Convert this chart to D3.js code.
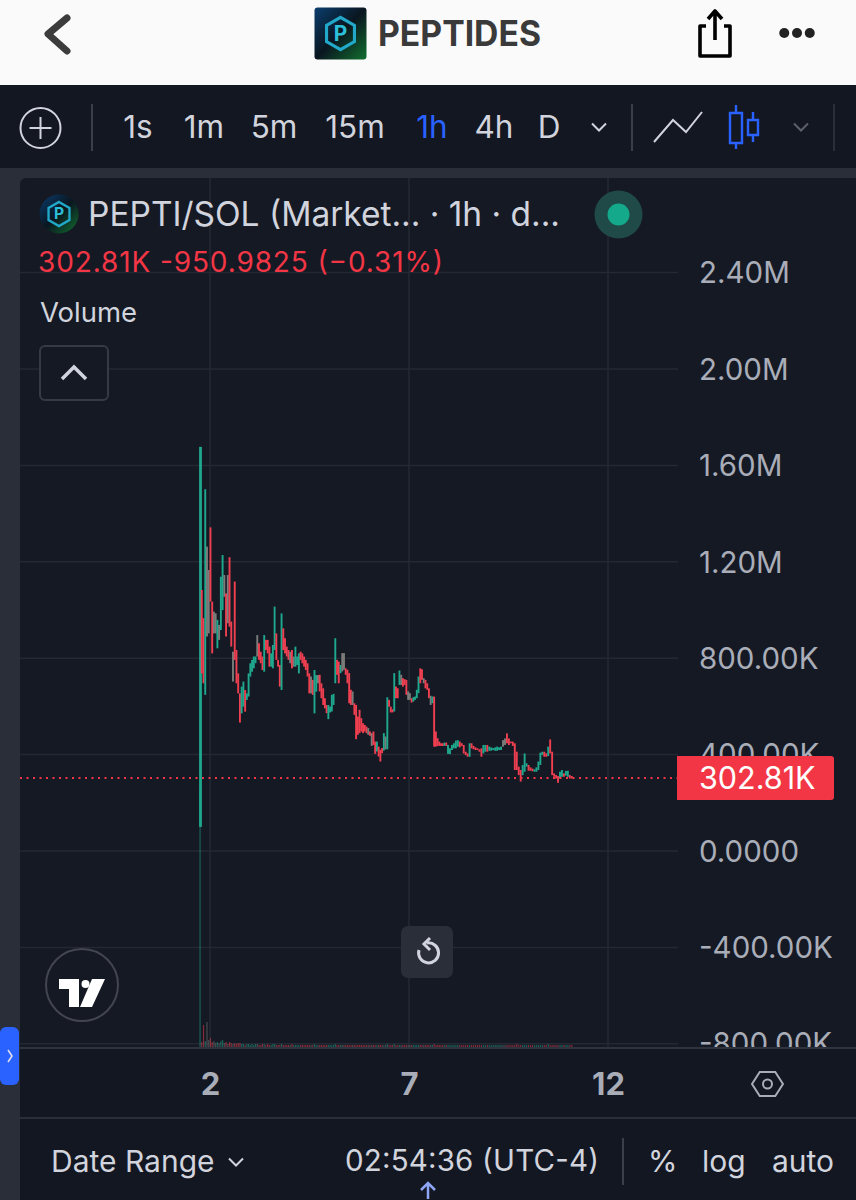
<!DOCTYPE html>
<html><head><meta charset="utf-8">
<style>html,body{margin:0;padding:0;background:#131722}svg{display:block}text{font-family:Inter,"Noto Sans",sans-serif}</style>
<script src="https://cdn.jsdelivr.net/npm/d3@7/dist/d3.min.js"></script>
</head><body><svg id="c" width="856" height="1200"></svg>
<script>
const priceTicks=[2400,2000,1600,1200,800,400,0,-400,-800];
const priceLabels=["2.40M","2.00M","1.60M","1.20M","800.00K","400.00K","0.0000","-400.00K","-800.00K"];
const dayTicks=[2,7,12];
const intervals=["1s","1m","5m","15m","1h","4h","D"];
const lastPrice=302.81;
const highs=[1677,1083,966,1501,1263,1166,1343,1035,993,986,959,938,1138,1228,1145,1069,1145,1219,952,827,1118,834,737,654,682,703,668,654,737,779,793,807,807,896,862,827,807,896,876,876,848,820,855,1014,903,793,772,986,924,883,848,834,827,834,807,848,807,820,827,820,807,793,779,737,724,710,751,730,730,731,696,675,634,606,606,599,648,652,883,793,786,772,821,821,758,752,738,669,662,613,606,558,586,551,530,523,516,510,496,489,496,454,454,433,420,427,489,475,638,627,599,588,738,682,675,749,731,717,713,710,662,655,634,638,641,669,724,758,754,717,710,696,675,644,641,641,496,468,454,447,447,450,450,440,426,440,447,458,460,454,447,440,412,405,447,447,436,430,426,422,426,440,440,440,433,430,427,430,433,430,433,460,467,488,467,454,454,447,412,350,336,357,405,364,357,347,342,339,347,371,408,412,412,405,433,463,412,322,315,311,329,336,322,332,333,315,311];
const lows=[100,737,696,648,890,903,1035,820,903,903,841,876,917,1000,1055,890,945,931,848,703,793,696,654,533,571,599,578,627,641,724,744,758,779,807,793,779,751,744,834,820,765,765,758,834,793,765,682,668,834,820,807,793,779,758,765,765,772,737,793,779,765,751,724,654,654,648,571,661,696,662,634,606,592,572,547,575,579,606,696,731,696,738,745,752,731,696,613,606,606,565,464,482,489,496,489,496,489,482,478,436,440,403,413,392,371,406,417,422,422,599,575,575,579,634,634,689,689,682,689,648,627,627,616,620,627,634,655,696,710,696,675,669,634,606,613,433,433,436,436,436,436,436,436,403,402,419,426,426,433,430,436,405,398,391,391,426,422,419,419,412,391,405,412,412,416,416,419,416,416,419,419,433,440,447,440,447,436,336,336,315,288,315,329,350,333,333,331,329,329,336,357,398,391,391,394,405,315,308,301,283,301,308,308,313,308,301,301];
const directions=["URRUNNRRNN","UNUUNRNRRN","RRRRUURUUU","UUUNRRRURR","RUUURRRURR","RRNRNUUURR","RRRRNRUUNR","RRRRUUUUUR","RUNNRRRRNR","RRRRRRRNRN","RRURRRUNUR","RRURRUNRRR","NNRUUUURRN","RRRNURRRRR","RURUUUUUUR","RRRRURRRRR","RUURUUUUUU","UNNRRRRRRR","RUUURRRUUU","UURRURRRRR","UURUURR"].join("").split("");
const volumes=[260,5,22,6,25,7,9,5,6,4,5,4,6,7,4,5,3,5,4,3,4,3,4,4,3,3,2,3,3,2,3,2,3,3,2,2,3,3,2,3,2,2,3,3,2,2,2,3,2,2,2,2,2,3,2,2,2,2,2,2,2,2,2,2,2,2,3,2,2,2,2,2,2,2,2,2,2,2,3,2,2,2,2,2,2,2,2,2,2,2,2,2,2,2,2,2,2,2,2,2,2,2,2,2,2,2,2,2,3,2,2,2,3,2,2,2,2,2,2,2,2,2,2,2,2,2,2,2,2,2,2,2,2,2,2,3,2,2,2,2,2,2,2,2,2,2,2,2,2,2,2,2,2,2,2,2,2,2,2,2,2,2,2,2,2,2,2,2,2,2,2,2,2,2,2,2,2,2,3,2,2,2,2,2,2,2,2,2,2,2,2,2,2,2,3,2,2,2,2,2,2,2,2,2,2,2,2];
const colours={U:"#1fa88e",R:"#ef3f50",N:"#7c7d7b"};
const candleAnchors=[0,143,206];
const candleDays=[1.75,7.98,11.09];

const svg=d3.select("#c");
const muted="#a9adb8",light="#d1d4dc",white="#fafafa";
const bg="#151924",strip="#2a2e39",grid="#242833";
const y=d3.scaleLinear().domain([0,400]).range([851,754.6]);
const x=d3.scaleLinear().domain([2,7]).range([210,409]);
const candleDay=d3.scaleLinear().domain(candleAnchors).range(candleDays);
const candleX=i=>x(candleDay(i));
const vol=d3.scaleLinear().domain([0,1]).range([1047,1046]);

// backgrounds
svg.append("rect").attr("width",856).attr("height",1200).attr("fill","#131722");
svg.append("rect").attr("width",856).attr("height",85).attr("fill",white);
svg.append("rect").attr("y",168).attr("width",856).attr("height",1032).attr("fill",strip);
svg.append("path").attr("d","M20,1200V184a6,6 0 0 1 6,-6H856V1200Z").attr("fill",bg);
svg.append("rect").attr("x",20).attr("y",1048).attr("width",836).attr("height",152).attr("fill","#131722");

// header
const defs=svg.append("defs");
const g1=defs.append("linearGradient").attr("id","logo").attr("x1",0).attr("y1",0).attr("x2",1).attr("y2",1);
g1.append("stop").attr("offset",0).attr("stop-color","#0a3d6e");
g1.append("stop").attr("offset",.5).attr("stop-color","#0a1620");
g1.append("stop").attr("offset",1).attr("stop-color","#12702f");
function logo(cx,cy,r,round){
  if(round) svg.append("circle").attr("cx",cx).attr("cy",cy).attr("r",r).attr("fill","url(#logo)");
  else svg.append("rect").attr("x",cx-r).attr("y",cy-r).attr("width",2*r).attr("height",2*r).attr("rx",3).attr("fill","url(#logo)");
  const h=r*.62,pts=d3.range(6).map(i=>[cx+h*Math.sin(i*Math.PI/3),cy-h*Math.cos(i*Math.PI/3)]);
  svg.append("path").attr("d","M"+pts.join("L")+"Z").attr("fill","none").attr("stroke","#22a8c8").attr("stroke-width",r*.12);
  svg.append("text").attr("x",cx).attr("y",cy+r*.28).attr("text-anchor","middle").attr("font-size",r*.8).attr("font-weight",700).attr("fill","#2cc0d8").text("P");
}
logo(340.5,33.5,26,false);
svg.append("text").attr("x",378).attr("y",46).attr("font-size",35).attr("font-weight",700).attr("fill","#3a3a3a").attr("textLength",163).attr("lengthAdjust","spacingAndGlyphs").attr("font-family","Roboto").text("PEPTIDES");
svg.append("path").attr("d","M67,18L48,34L67,51").attr("fill","none").attr("stroke","#3c3c3c").attr("stroke-width",7).attr("stroke-linecap","round").attr("stroke-linejoin","round");
svg.append("path").attr("d","M706,26H700V56H730V26H724M715,40V13M708,19L715,11L722,19").attr("fill","none").attr("stroke","#000").attr("stroke-width",3.6).attr("stroke-linejoin","round");
[-15,0,15].forEach(d=>svg.append("circle").attr("cx",797+d*.85).attr("cy",33).attr("r",5).attr("fill","#222"));

// toolbar
svg.append("circle").attr("cx",40.5).attr("cy",128).attr("r",20).attr("fill","none").attr("stroke","#d1d4dc").attr("stroke-width",2);
svg.append("path").attr("d","M40.5,117V139M29.5,128H51.5").attr("stroke","#d1d4dc").attr("stroke-width",2);
svg.selectAll("line.sep").data([92,632]).join("line").attr("x1",d=>d).attr("x2",d=>d).attr("y1",104).attr("y2",151).attr("stroke","#3b3f4a").attr("stroke-width",2);
svg.append("line").attr("x1",834).attr("x2",834).attr("y1",104).attr("y2",151).attr("stroke","#2a2e39").attr("stroke-width",2);
const ivX=[138,204,274,355,432,494,549];
svg.selectAll("text.iv").data(intervals).join("text").attr("x",(d,i)=>ivX[i]).attr("y",138).attr("text-anchor","middle").attr("font-size",31.5).attr("fill",d=>d==="1h"?"#2962ff":light).text(d=>d);
const chev=(cx,cy,c,w)=>svg.append("path").attr("d",`M${cx-w},${cy-w/2}L${cx},${cy+w/2}L${cx+w},${cy-w/2}`).attr("fill","none").attr("stroke",c).attr("stroke-width",2);
chev(599,127,light,7);chev(801,127,"#5d606b",7);
svg.append("path").attr("d","M654,142L673,120L686,132L702,112").attr("fill","none").attr("stroke",light).attr("stroke-width",2);
svg.append("path").attr("d","M736,105V113M736,143V149M730,113H742V143H730ZM753,112V120M753,135V142M748,120H758V135H748Z").attr("fill","none").attr("stroke","#2962ff").attr("stroke-width",2.4);

// grid
svg.selectAll("line.h").data(priceTicks).join("line").attr("x1",20).attr("x2",678).attr("y1",d=>y(d)).attr("y2",d=>y(d)).attr("stroke",grid).attr("stroke-width",1.5);
svg.selectAll("line.v").data(dayTicks).join("line").attr("x1",d=>x(d)).attr("x2",d=>x(d)).attr("y1",178).attr("y2",1048).attr("stroke",grid).attr("stroke-width",1.5);

// volume
svg.append("g").selectAll("rect").data(volumes).join("rect")
  .attr("x",(d,i)=>candleX(i)-.6).attr("width",1.2)
  .attr("y",d=>vol(d)).attr("height",d=>vol(0)-vol(d))
  .attr("fill",(d,i)=>colours[directions[i]]).attr("opacity",.5);

// candles
svg.append("g").selectAll("rect").data(highs).join("rect")
  .attr("x",(d,i)=>candleX(i)-.95).attr("width",(d,i)=>i===0?2.8:1.9)
  .attr("y",d=>y(d)).attr("height",(d,i)=>y(lows[i])-y(d))
  .attr("fill",(d,i)=>colours[directions[i]]);

// axes
const ya=d3.axisRight(y).tickValues(priceTicks.slice(0,8)).tickFormat(d=>priceLabels[priceTicks.indexOf(d)]).tickSize(0).tickPadding(0);
const yg=svg.append("g").attr("transform","translate(699,0)").call(ya);
yg.select(".domain").remove();
yg.selectAll("text").attr("font-size",29.5).attr("fill",muted).attr("font-family","Inter").attr("dy","0.35em");
svg.append("clipPath").attr("id","cl").append("rect").attr("x",680).attr("y",1000).attr("width",176).attr("height",47);
svg.append("text").attr("x",699).attr("y",y(-800)+10).attr("font-size",29.5).attr("fill",muted).attr("clip-path","url(#cl)").text(priceLabels[8]);
svg.append("line").attr("x1",20).attr("x2",856).attr("y1",1048).attr("y2",1048).attr("stroke","#2f333e").attr("stroke-width",2);
svg.append("line").attr("x1",20).attr("x2",856).attr("y1",1118).attr("y2",1118).attr("stroke","#2a2e39").attr("stroke-width",2);

const xa=d3.axisBottom(x).tickValues(dayTicks).tickFormat(d3.format("d")).tickSize(0).tickPadding(0);
const xg=svg.append("g").attr("transform","translate(0,1073)").call(xa);
xg.select(".domain").remove();
xg.selectAll("text").attr("font-size",31).attr("font-weight",700).attr("fill",muted).attr("font-family","Inter");

// last price
svg.append("line").attr("x1",20).attr("x2",678).attr("y1",y(lastPrice)).attr("y2",y(lastPrice)).attr("stroke","#f23645").attr("stroke-width",2).attr("stroke-dasharray","2 4.5");
svg.append("path").attr("d","M677,756H831a3,3 0 0 1 3,3V797a3,3 0 0 1 -3,3H677Z").attr("fill","#f23645");
svg.append("text").attr("x",699).attr("y",789).attr("font-size",30.5).attr("fill","#fff").text("302.81K");

// legend
logo(59,214,19.5,true);
svg.append("text").attr("x",88).attr("y",226).attr("font-size",33.5).attr("fill",light).attr("textLength",472).text("PEPTI/SOL (Market... · 1h · d...");
svg.append("circle").attr("cx",618.5).attr("cy",214.5).attr("r",24).attr("fill","#1f4a47");
svg.append("circle").attr("cx",618.5).attr("cy",214.5).attr("r",11).attr("fill","#14a98a");
svg.append("text").attr("x",38).attr("y",272).attr("font-size",28).attr("fill","#f23645").attr("textLength",405).text("302.81K  -950.9825 (−0.31%)");
svg.append("text").attr("x",40).attr("y",322).attr("font-size",27.5).attr("fill",light).text("Volume");
svg.append("rect").attr("x",40).attr("y",346).attr("width",68).attr("height",54).attr("rx",5).attr("fill",bg).attr("stroke","#363a45").attr("stroke-width",2);
svg.append("path").attr("d","M62,379L74,367L86,379").attr("fill","none").attr("stroke",light).attr("stroke-width",3.5);

// tradingview badge
svg.append("circle").attr("cx",82).attr("cy",985).attr("r",36).attr("fill",bg).attr("stroke","#43464f").attr("stroke-width",2);
svg.append("path").attr("d","M59,979H79V1007H69V989H59ZM92,979H105L92,1007H80Z").attr("fill","#fff");
svg.append("circle").attr("cx",85.5).attr("cy",984).attr("r",4).attr("fill","#fff");

// reset button
svg.append("rect").attr("x",401).attr("y",926).attr("width",52).attr("height",52).attr("rx",7).attr("fill","#2a2e39");
svg.append("path").attr("d","M419,950a10,10 0 1 0 8,-7").attr("fill","none").attr("stroke",light).attr("stroke-width",3);
svg.append("path").attr("d","M430,938L424,944L430,950").attr("fill","none").attr("stroke",light).attr("stroke-width",3);

// left tab
svg.append("rect").attr("x",0).attr("y",1027).attr("width",19).attr("height",58).attr("rx",6).attr("fill","#2962ff");
svg.append("path").attr("d","M8,1050L12,1056L8,1062").attr("fill","none").attr("stroke","#dde").attr("stroke-width",1.6);

// gear
const gp=d3.range(6).map(i=>[767.5+15.5*Math.cos(i*Math.PI/3),1084+14*Math.sin(i*Math.PI/3)]);
svg.append("path").attr("d","M"+gp.join("L")+"Z").attr("fill","none").attr("stroke",muted).attr("stroke-width",2);
svg.append("circle").attr("cx",767.5).attr("cy",1084).attr("r",4.5).attr("fill","none").attr("stroke",muted).attr("stroke-width",2);

// bottom bar
svg.append("text").attr("x",51).attr("y",1172).attr("font-size",30).attr("fill",light).text("Date Range");
chev(236,1162,light,7);
svg.append("text").attr("x",345).attr("y",1171).attr("font-size",29.5).attr("fill",light).attr("textLength",254).text("02:54:36 (UTC-4)");
svg.append("line").attr("x1",623).attr("x2",623).attr("y1",1138).attr("y2",1185).attr("stroke","#3b3f4a").attr("stroke-width",2);
[["%",648],["log",702],["auto",772]].forEach(([t,px])=>svg.append("text").attr("x",px).attr("y",1172).attr("font-size",30).attr("fill",light).text(t));
svg.append("path").attr("d","M428,1199V1184M421,1190L428,1183L435,1190").attr("fill","none").attr("stroke","#8ea4f5").attr("stroke-width",2.5);
</script></body></html>
